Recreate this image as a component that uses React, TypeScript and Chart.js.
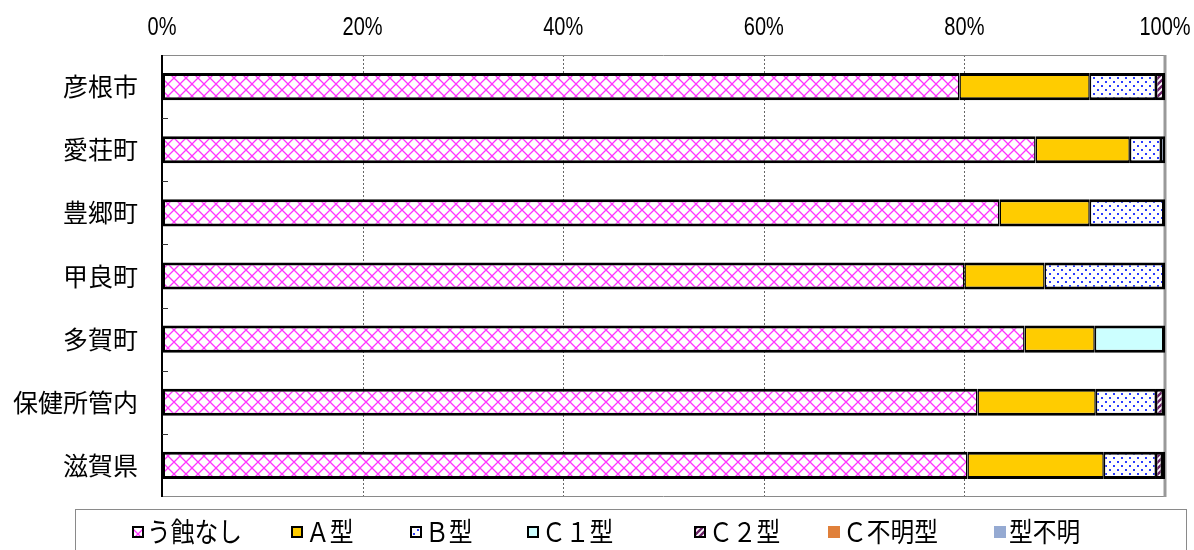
import React, { useEffect, useRef } from "react";
import { Chart, registerables } from "chart.js";

Chart.register(...registerables);

// ---- data ----
const categories = ["彦根市", "愛荘町", "豊郷町", "甲良町", "多賀町", "保健所管内", "滋賀県"];
const seriesNames = ["う蝕なし", "Ａ型", "Ｂ型", "Ｃ１型", "Ｃ２型", "Ｃ不明型", "型不明"];
const noCaries = [79.5, 87.1, 83.5, 80.0, 86.0, 81.3, 80.3];
const typeA = [13.0, 9.4, 9.0, 8.0, 7.0, 11.8, 13.6];
const typeB = [6.6, 3.1, 7.5, 12.0, 0, 6.0, 5.2];
const typeC1 = [0, 0, 0, 0, 7.0, 0, 0];
const typeC2 = [0.9, 0, 0, 0, 0, 0.7, 0.6];
const typeCUnknown = [0, 0, 0, 0, 0, 0, 0];
const typeUnknown = [0, 0.4, 0, 0, 0, 0.2, 0.3];
const xTickValues = [0, 20, 40, 60, 80, 100];

const allSeries = [noCaries, typeA, typeB, typeC1, typeC2, typeCUnknown, typeUnknown];

const JP_FONT = "'Noto Sans CJK JP', 'Noto Sans', sans-serif";
const NUM_FONT = "'Liberation Sans', Arial, sans-serif";

function makePattern(kind: string): CanvasPattern | string {
  const c = document.createElement("canvas");
  const g = c.getContext("2d");
  if (!g) return "#fff";
  if (kind === "lattice") {
    c.width = 12; c.height = 12;
    g.fillStyle = "#ffffff"; g.fillRect(0, 0, 12, 12);
    g.strokeStyle = "#ff33ff"; g.lineWidth = 1.3;
    g.beginPath();
    g.moveTo(0, 0); g.lineTo(12, 12);
    g.moveTo(12, 0); g.lineTo(0, 12);
    g.stroke();
  } else if (kind === "dots") {
    c.width = 8; c.height = 8;
    g.fillStyle = "#ffffff"; g.fillRect(0, 0, 8, 8);
    g.fillStyle = "#2a3cff";
    g.fillRect(1, 1, 2, 2);
    g.fillRect(5, 5, 2, 2);
  } else if (kind === "stripes") {
    c.width = 6; c.height = 6;
    g.fillStyle = "#ffffff"; g.fillRect(0, 0, 6, 6);
    g.strokeStyle = "#6a2166"; g.lineWidth = 2.4;
    g.beginPath();
    g.moveTo(-1, 7); g.lineTo(7, -1);
    g.moveTo(-4, 4); g.lineTo(4, -4);
    g.moveTo(2, 10); g.lineTo(10, 2);
    g.stroke();
  }
  const p = g.createPattern(c, "repeat");
  return p || "#fff";
}

export default function App() {
  const ref = useRef<HTMLCanvasElement | null>(null);

  useEffect(() => {
    if (!ref.current) return;
    const fills: (CanvasPattern | string)[] = [
      makePattern("lattice"),
      "#ffcc00",
      makePattern("dots"),
      "#ccffff",
      makePattern("stripes"),
      "#e0803a",
      "#95aad2",
    ];
    const legendBordered = [true, true, true, true, true, false, false];

    const borderFn = (ctx: any) => {
      const i = ctx.dataIndex;
      const d = ctx.datasetIndex;
      const v = allSeries[d][i];
      if (!v) return 0;
      let last = -1;
      for (let k = 0; k < allSeries.length; k++) if (allSeries[k][i] > 0) last = k;
      return { top: 3, bottom: 3, left: d === 0 ? 3 : 1.5, right: d === last ? 3 : 1.5 };
    };

    const framePlugin = {
      id: "framePlugin",
      beforeDatasetsDraw(chart: any) {
        const { ctx, chartArea: a } = chart;
        const xs = chart.scales.x;
        ctx.save();
        ctx.strokeStyle = "#666";
        ctx.lineWidth = 1;
        ctx.setLineDash([2, 2]);
        xTickValues.forEach((v) => {
          if (v === 0 || v === 100) return;
          const px = Math.round(xs.getPixelForValue(v)) + 0.5;
          ctx.beginPath();
          ctx.moveTo(px, a.top);
          ctx.lineTo(px, a.bottom);
          ctx.stroke();
        });
        ctx.setLineDash([]);
        ctx.strokeStyle = "#8a8a8a";
        ctx.lineWidth = 1;
        ctx.beginPath();
        ctx.moveTo(a.left, a.top + 0.5);
        ctx.lineTo(a.right, a.top + 0.5);
        ctx.moveTo(a.left, a.bottom - 0.5);
        ctx.lineTo(a.right, a.bottom - 0.5);
        ctx.stroke();
        ctx.strokeStyle = "#999";
        ctx.lineWidth = 3;
        ctx.beginPath();
        ctx.moveTo(a.right, a.top);
        ctx.lineTo(a.right, a.bottom);
        ctx.stroke();
        ctx.restore();
      },
      afterDatasetsDraw(chart: any) {
        const { ctx, chartArea: a } = chart;
        const ys = chart.scales.y;
        const xs = chart.scales.x;
        ctx.save();
        ctx.strokeStyle = "#000";
        ctx.lineWidth = 2;
        ctx.beginPath();
        ctx.moveTo(a.left, a.top);
        ctx.lineTo(a.left, a.bottom);
        ctx.stroke();
        ctx.strokeStyle = "#333";
        ctx.lineWidth = 1;
        for (let i = 0; i < categories.length - 1; i++) {
          const y = Math.round((ys.getPixelForValue(i) + ys.getPixelForValue(i + 1)) / 2) + 0.5;
          ctx.beginPath();
          ctx.moveTo(a.left, y);
          ctx.lineTo(a.left + 6, y);
          ctx.stroke();
        }
        // x tick labels (condensed)
        ctx.fillStyle = "#000";
        ctx.font = `26px ${NUM_FONT}`;
        ctx.textAlign = "center";
        ctx.textBaseline = "middle";
        xTickValues.forEach((v) => {
          const px = xs.getPixelForValue(v);
          ctx.save();
          ctx.translate(px, 28);
          ctx.scale(0.77, 1);
          ctx.fillText(`${v}%`, 0, 0);
          ctx.restore();
        });
        ctx.restore();
      },
      afterDraw(chart: any) {
        const { ctx } = chart;
        const boxLeft = 75, boxTop = 509, boxRight = 1186;
        const markerX = [132, 291, 410, 527, 694, 828, 994];
        const midY = 532;
        ctx.save();
        ctx.strokeStyle = "#8a8a8a";
        ctx.lineWidth = 1;
        ctx.strokeRect(boxLeft + 0.5, boxTop + 0.5, boxRight - boxLeft, 80);
        ctx.font = `27px ${JP_FONT}`;
        ctx.textBaseline = "middle";
        ctx.textAlign = "left";
        seriesNames.forEach((name, k) => {
          const mx = markerX[k];
          if (legendBordered[k]) {
            ctx.fillStyle = "#000";
            ctx.fillRect(mx, midY - 6, 12, 12);
            ctx.fillStyle = fills[k];
            ctx.fillRect(mx + 2, midY - 4, 8, 8);
          } else {
            ctx.fillStyle = fills[k];
            ctx.fillRect(mx, midY - 6, 12, 12);
          }
          ctx.fillStyle = "#000";
          ctx.save();
          ctx.translate(mx + 15, midY);
          ctx.scale(0.88, 1);
          ctx.fillText(name, 0, 0);
          ctx.restore();
        });
        ctx.restore();
      },
    };

    const chart = new Chart(ref.current, {
      type: "bar",
      data: {
        labels: categories,
        datasets: seriesNames.map((name, k) => ({
          label: name,
          data: allSeries[k],
          backgroundColor: fills[k] as any,
          borderColor: "#000",
          borderWidth: borderFn as any,
          borderSkipped: false,
          barPercentage: 0.43,
          categoryPercentage: 1,
        })),
      },
      options: {
        indexAxis: "y",
        responsive: false,
        animation: false,
        layout: { padding: { left: 0, right: 29, top: 0, bottom: 53 } },
        plugins: {
          legend: { display: false },
          tooltip: { enabled: false },
        },
        scales: {
          x: {
            position: "top",
            stacked: true,
            min: 0,
            max: 100,
            grid: { display: false, drawTicks: false },
            border: { display: false },
            afterBuildTicks: (s: any) => {
              s.ticks = xTickValues.map((v) => ({ value: v }));
            },
            afterFit: (s: any) => {
              s.height = 55;
              s.paddingLeft = 0;
              s.paddingRight = 0;
            },
            ticks: { display: false },
          },
          y: {
            stacked: true,
            grid: { display: false, drawTicks: false },
            border: { display: false },
            afterFit: (s: any) => {
              s.width = 162;
              s.paddingTop = 0;
              s.paddingBottom = 0;
            },
            ticks: {
              padding: 24,
              color: "#000",
              font: { family: JP_FONT, size: 25 },
            },
          },
        },
      },
      plugins: [framePlugin],
    });
    return () => chart.destroy();
  }, []);

  return (
    <div style={{ position: "absolute", left: 0, top: 0, width: 1194, height: 550, background: "#fff" }}>
      <canvas ref={ref} width={1194} height={550} style={{ display: "block", width: 1194, height: 550 }} />
    </div>
  );
}
